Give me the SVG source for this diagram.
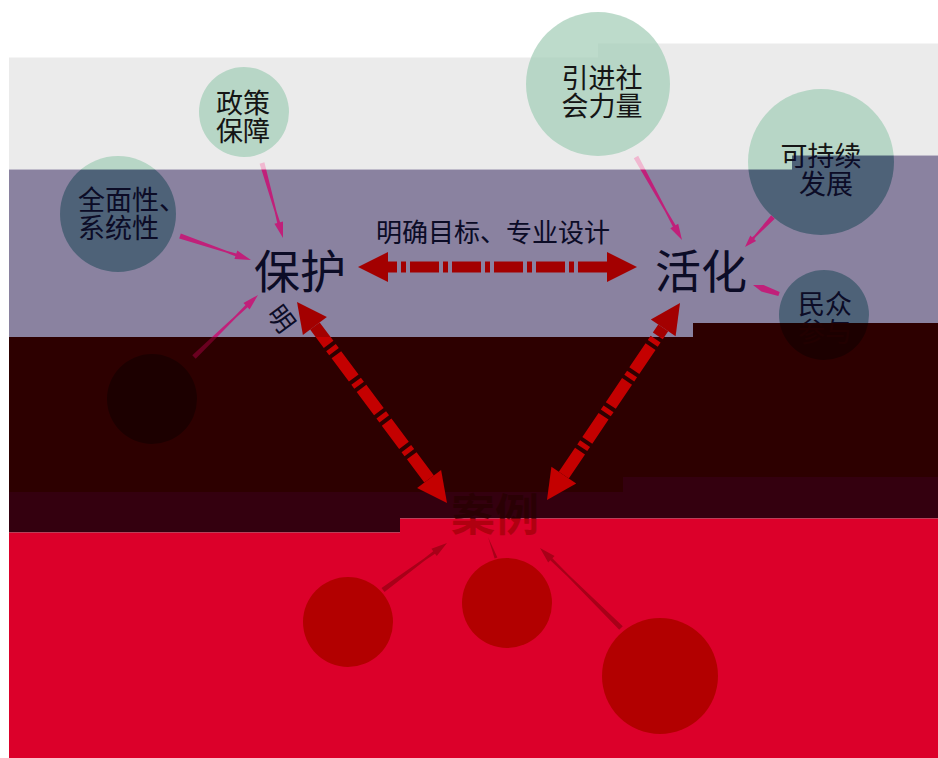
<svg xmlns="http://www.w3.org/2000/svg" width="938" height="758" viewBox="0 0 938 758">
<style>
.t{font-family:"Noto Sans CJK SC","Noto Sans CJK JP",sans-serif;fill:url(#textPaint);text-anchor:middle}
.c{fill:url(#circlePaint)}
.pk{fill:url(#pinkPaint)}
.hd{fill:url(#arrowPaint)}
.sh{stroke:url(#arrowPaint);fill:none}
</style>
<defs>
<polygon id="bGray" points="0,57.5 598,57.5 598,43.5 938,43.5 938,155.5 792,155.5 792,169.5 0,169.5"/>
<polygon id="bPurple" points="0,169.5 792,169.5 792,155.5 938,155.5 938,323 693,323 693,337 0,337"/>
<polygon id="bDark" points="0,337 693,337 693,323 938,323 938,477 623,477 623,492 0,492"/>
<polygon id="bDark2" points="0,492 623,492 623,477 938,477 938,518.5 400,518.5 400,532.5 0,532.5"/>
<polygon id="bRed" points="0,532.5 400,532.5 400,518.5 938,518.5 938,758 0,758"/>
<pattern id="circlePaint" patternUnits="userSpaceOnUse" x="0" y="0" width="938" height="758">
<rect width="938" height="758" fill="#bddbcb"/>
<use href="#bGray" fill="#b7d6c6"/><use href="#bPurple" fill="#4e6278"/><use href="#bDark" fill="#1c0000"/><use href="#bDark2" fill="#22000a"/><use href="#bRed" fill="#b20000"/>
</pattern>
<pattern id="textPaint" patternUnits="userSpaceOnUse" x="0" y="0" width="938" height="758">
<rect width="938" height="758" fill="#111111"/>
<use href="#bGray" fill="#151515"/><use href="#bPurple" fill="#0c0c26"/><use href="#bDark" fill="#220000"/><use href="#bDark2" fill="#2a0004"/><use href="#bRed" fill="#b00010"/>
</pattern>
<pattern id="arrowPaint" patternUnits="userSpaceOnUse" x="0" y="0" width="938" height="758">
<rect width="938" height="758" fill="#b00000"/>
<use href="#bGray" fill="#b00000"/><use href="#bPurple" fill="#a30000"/><use href="#bDark" fill="#c40000"/><use href="#bDark2" fill="#c40000"/><use href="#bRed" fill="#a0000c"/>
</pattern>
<pattern id="pinkPaint" patternUnits="userSpaceOnUse" x="0" y="0" width="938" height="758">
<rect width="938" height="758" fill="#f2bcd2"/>
<use href="#bGray" fill="#f0b8d0"/><use href="#bPurple" fill="#c0207a"/><use href="#bDark" fill="#6a0020"/><use href="#bDark2" fill="#700015"/><use href="#bRed" fill="#a80018"/>
</pattern>
<clipPath id="clipPurple"><use href="#bPurple"/></clipPath>
</defs>

<g id="background">
<rect width="938" height="758" fill="#ffffff"/>
<use href="#bGray" fill="#ebebeb"/>
<use href="#bPurple" fill="#8a82a0"/>
<use href="#bDark" fill="#2d0000"/>
<use href="#bDark2" fill="#34000f"/>
<use href="#bRed" fill="#dc002a"/>
<rect width="9" height="758" fill="#ffffff"/>
</g>

<g id="node-zhengce"><circle class="c" cx="244" cy="112" r="45"/><text class="t" font-size="27"><tspan x="243" y="113">政策</tspan><tspan x="243" y="141">保障</tspan></text></g>
<g id="node-yinjin"><circle class="c" cx="598" cy="84" r="72"/><text class="t" font-size="27"><tspan x="602" y="88">引进社</tspan><tspan x="602" y="116">会力量</tspan></text></g>
<g id="node-kechixu"><circle class="c" cx="821" cy="162" r="73"/><text class="t" font-size="27"><tspan x="821" y="166">可持续</tspan><tspan x="826" y="194">发展</tspan></text></g>
<g id="node-quanmian"><circle class="c" cx="118" cy="214" r="58"/><text class="t" font-size="27" style="text-anchor:start"><tspan x="78" y="210">全面性、</tspan><tspan x="78" y="238">系统性</tspan></text></g>
<g id="node-minzhong"><circle class="c" cx="824" cy="315" r="45"/><text class="t" font-size="27"><tspan x="825" y="314">民众</tspan><tspan x="825" y="342">参与</tspan></text></g>
<g id="node-left-dark"><circle class="c" cx="152" cy="399" r="45"/></g>
<g id="node-case1"><circle class="c" cx="348" cy="622" r="45"/></g>
<g id="node-case2"><circle class="c" cx="507" cy="603" r="45"/></g>
<g id="node-case3"><circle class="c" cx="660" cy="676" r="58"/></g>
<g id="node-baohu"><text class="t" x="300" y="288" font-size="46">保护</text></g>
<g id="node-huohua"><text class="t" x="701" y="288" font-size="46">活化</text></g>
<g id="node-anli"><text class="t" x="495" y="531" font-size="44" font-weight="bold">案例</text></g>

<g id="connectors">
<polygon class="pk" points="259.6,163.7 274.7,212.0 277.2,223.0 274.4,223.8 283,238 283,221.4 280.1,222.2 276.6,211.5 264.4,162.3"/>
<polygon class="pk" points="179.2,238.4 225.8,252.5 235.4,256.3 234.4,259.1 251,260 237.3,250.6 236.3,253.5 226.5,250.7 180.8,233.6"/>
<polygon class="pk" points="195.7,358.8 236.3,317.4 247.6,307.2 249.6,309.4 258,295 243.4,302.9 245.5,305.1 234.9,316.0 192.3,355.2"/>
<polygon class="pk" points="633.8,158.2 665.0,211.4 672.9,226.7 670.3,228.2 682,240 678.2,223.8 675.6,225.3 666.8,210.5 638.2,155.8"/>
<polygon class="pk" points="771.2,215.3 754.1,235.8 752.1,237.2 750.3,235.5 745,247 756.1,241.0 754.3,239.3 755.5,237.2 774.8,218.7"/>
<polygon class="pk" points="779.7,292.1 763.6,285.0 753,285 761.3,291.6 778.4,295.9"/>
<polygon class="pk" points="384.5,592.0 425.2,560.3 435.0,553.7 436.8,556.1 447,543 431.4,548.8 433.2,551.3 424.0,558.6 381.5,588.0"/>
<polygon class="pk" points="497.4,557.5 488,537 494.6,558.5"/>
<polygon class="pk" points="622.8,626.2 569.1,575.3 552.4,558.2 554.6,556.1 540,548 548.2,562.5 550.3,560.3 567.7,576.7 619.2,629.8"/>

<line class="sh" x1="607" y1="267" x2="388" y2="267" stroke-width="11" stroke-dasharray="29 4 5 4"/>
<polygon class="hd" points="358,267 388,252 388,282"/>
<polygon class="hd" points="637,267 607,252 607,282"/>

<line class="sh" x1="429.1" y1="479.0" x2="314.9" y2="326.0" stroke-width="12" stroke-dasharray="29 4 5 4"/>
<polygon class="hd" points="297,302 302.9,335.0 326.9,317.0"/>
<polygon class="hd" points="447,503 417.1,488.0 441.1,470.0"/>

<line class="sh" x1="563.8" y1="475.1" x2="663.2" y2="327.9" stroke-width="12" stroke-dasharray="29 4 5 4"/>
<polygon class="hd" points="680,303 675.6,336.3 650.8,319.5"/>
<polygon class="hd" points="547,500 576.2,483.5 551.4,466.7"/>
</g>

<g id="labels">
<text class="t" x="493" y="242" font-size="26">明确目标、专业设计</text>
<g clip-path="url(#clipPurple)">
<text transform="translate(266,314) rotate(53.3)" font-family="Noto Sans CJK SC, sans-serif" font-size="26" fill="#0c0c26">明</text>
</g>
</g>
</svg>
